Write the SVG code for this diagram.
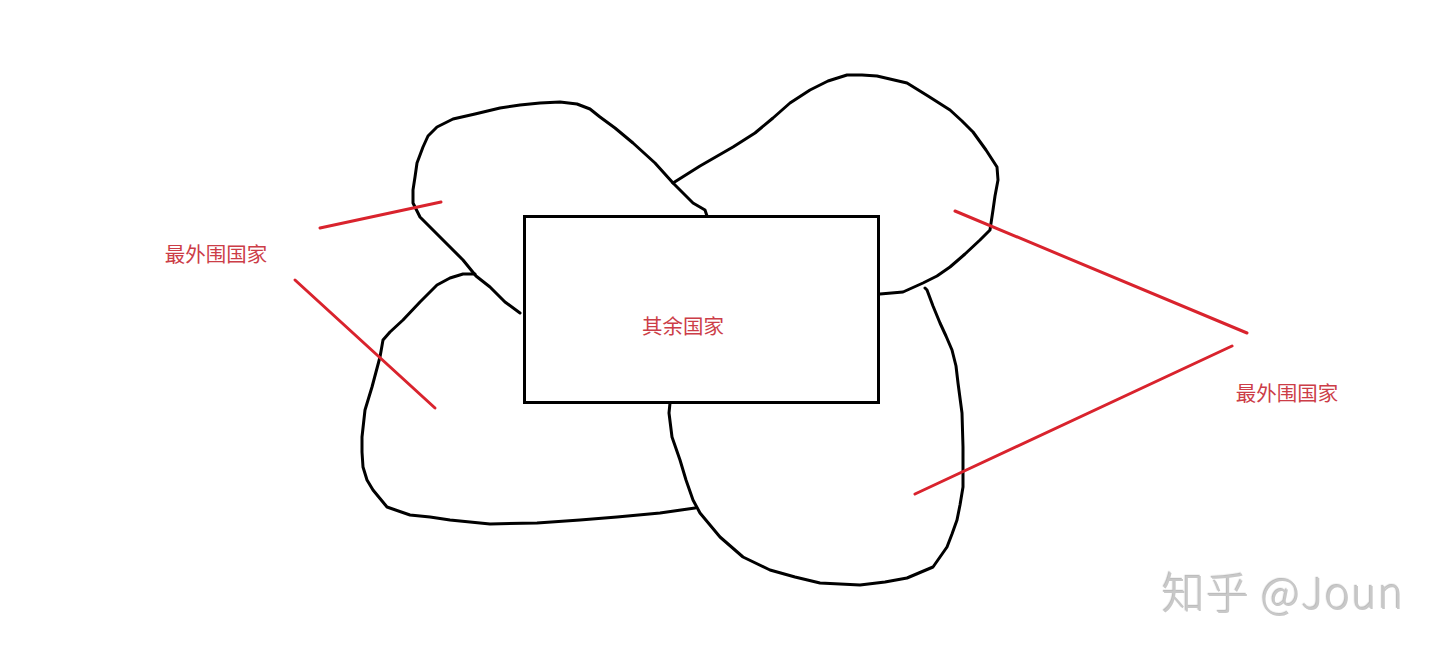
<svg xmlns="http://www.w3.org/2000/svg" width="1440" height="651" viewBox="0 0 1440 651">
<defs>
<style>
.blob{fill:none;stroke:#000;stroke-width:3;stroke-linejoin:round;stroke-linecap:round}
.red{stroke:#d9232d;stroke-width:3;stroke-linecap:round}
.lbl{font-family:"Noto Sans CJK SC","Noto Sans",sans-serif;font-size:20.5px;fill:#cc3d47}
.wm{font-family:"Noto Sans CJK SC","Noto Sans",sans-serif;font-size:43px;font-weight:300;fill:#c8c8c8;letter-spacing:1.2px}
</style>
<filter id="emb" x="-10%" y="-20%" width="120%" height="140%">
<feDropShadow dx="-1.2" dy="-1.2" stdDeviation="0.3" flood-color="#909090" flood-opacity="0.6"/>
</filter>
</defs>
<rect width="1440" height="651" fill="#fff"/>
<g id="blob-top-left">
<polyline class="blob" points="707,216 705,210 693,203 673,183 655,163 633,143 615,128 600,117 590,109 577,104 560,102 540,103 520,105 500,108 475,114 453,119 437,127 428,136 423,147 417,163 415,177 413,190 413,203 420,217 433,230 448,245 463,260 476,276 490,287 505,302 520,313"/>
</g>
<g id="blob-bottom-left">
<polyline class="blob" points="475,274 463,274 450,278 437,285 420,302 403,320 390,332 383,340 380,357 376,372 372,387 365,410 362,437 362,452 363,467 367,480 373,490 387,507 410,515 430,517 450,520 490,524 537,523 580,520 617,517 660,513 695,508"/>
</g>
<g id="blob-top-right">
<polyline class="blob" points="673,183 700,166 733,147 755,133 773,118 790,103 810,90 828,81 847,75 862,75 877,76 907,83 928,96 950,110 962,121 973,132 986,150 997,167 998,180 995,196 993,210 990,230 980,240 965,254 950,267 937,276 923,283 903,292 880,294"/>
</g>
<g id="blob-bottom-right">
<polyline class="blob" points="925,288 927,290 933,306 940,323 946,336 952,350 956,366 958,383 962,413 963,447 963,487 960,505 957,520 952,534 947,547 933,567 907,578 885,582 860,585 820,583 795,577 770,570 743,557 720,537 700,513 693,500 686,480 680,460 672,437 669,413 670,403"/>
</g>
<g id="rest">
<rect x="524.5" y="216.5" width="354" height="186" fill="none" stroke="#000" stroke-width="3"/>
<text class="lbl" x="683" y="334" text-anchor="middle">其余国家</text>
</g>
<g id="connectors">
<line class="red" x1="320" y1="228" x2="441" y2="202"/>
<line class="red" x1="295" y1="280" x2="435" y2="408"/>
<line class="red" x1="955" y1="211" x2="1247" y2="333"/>
<line class="red" x1="1232" y1="346" x2="915" y2="494"/>
</g>
<g id="label-left">
<text class="lbl" x="216" y="262" text-anchor="middle">最外围国家</text>
</g>
<g id="label-right">
<text class="lbl" x="1287" y="401" text-anchor="middle">最外围国家</text>
</g>
<g id="watermark">
<text class="wm" x="1162" y="609" filter="url(#emb)">知乎 @Joun</text>
</g>
</svg>
